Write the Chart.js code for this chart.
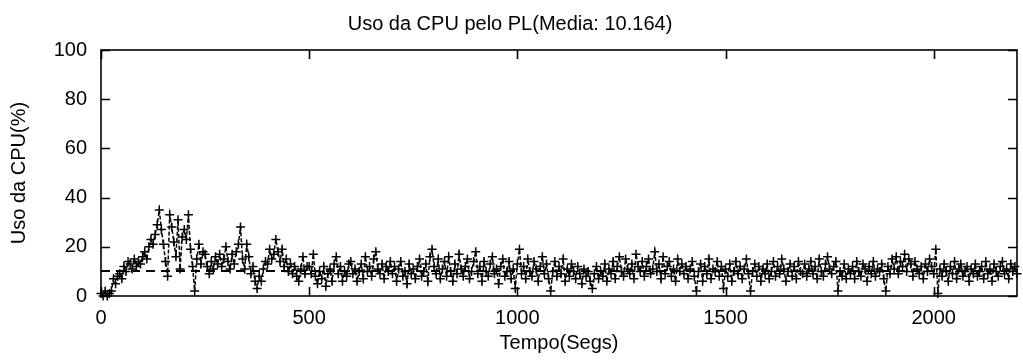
<!DOCTYPE html>
<html><head><meta charset="utf-8">
<script src="https://cdn.jsdelivr.net/npm/chart.js@4"></script>
<style>html,body{margin:0;padding:0;background:#fff}#wrap{width:1023px;height:361px}</style>
</head><body><div id="wrap"><canvas id="c" width="1023" height="361"></canvas></div>
<script>
const chartTitle = 'Uso da CPU pelo PL(Media: 10.164)';
const xTitle = 'Tempo(Segs)';
const yTitle = 'Uso da CPU(%)';
const sampleStep = 5;            // seconds between samples
const meanUsage = 10.164;
const xRange = [0, 2200];
const yRange = [0, 100];
const xTickValues = [0, 500, 1000, 1500, 2000];
const yTickValues = [0, 20, 40, 60, 80, 100];
// CPU usage (%) sampled every 5 s, one row = 100 s
const cpuUsage = [
  1,0,2,0,1,2,7,5,8,9,7,12,10,14,13,11,15,12,14,13,          // 0
  16,18,15,20,23,21,25,29,35,27,21,14,8,33,28,22,16,31,11,24, // 100
  27,23,33,19,12,2,15,21,13,18,17,12,9,14,11,16,13,17,12,15,  // 200
  20,14,11,17,13,18,21,28,15,11,21,16,9,12,6,3,8,6,11,14,     // 300
  13,19,15,17,23,18,14,19,12,15,10,13,9,12,8,6,11,16,9,12,    // 400
  12,9,17,8,5,10,7,12,4,9,11,6,13,16,9,12,6,10,8,13,          // 500
  14,9,11,6,10,13,7,16,10,12,8,15,18,11,9,13,7,12,10,14,      // 600
  9,12,6,11,14,8,10,5,13,9,11,7,12,15,8,10,13,6,16,19,        // 700
  12,9,15,7,11,14,8,16,10,6,13,9,17,11,8,12,15,7,10,14,       // 800
  18,9,12,6,14,10,8,13,16,9,11,5,12,15,8,10,14,7,11,3,        // 900
  13,19,9,12,7,15,10,8,14,11,6,12,16,9,13,7,2,10,14,8,        // 1000
  12,9,15,6,11,8,13,10,7,12,9,5,11,8,10,6,3,9,12,7,           // 1100
  10,8,13,6,11,9,14,7,12,16,10,8,15,11,9,13,7,17,12,10,       // 1200
  14,8,12,15,9,11,18,10,13,7,16,9,12,14,8,11,6,15,10,13,      // 1300
  9,12,7,11,14,8,2,10,13,6,12,9,15,7,11,10,14,8,12,3,         // 1400
  11,8,13,6,10,14,9,12,7,11,15,9,2,10,13,8,12,6,11,9,         // 1500
  13,7,10,14,8,12,9,15,11,6,10,13,8,12,7,14,10,9,13,8,        // 1600
  11,14,9,12,7,15,10,8,13,16,11,9,12,14,2,10,8,13,7,11,       // 1700
  9,12,7,14,10,8,13,11,6,12,9,14,8,11,10,13,7,2,12,9,         // 1800
  15,11,16,9,14,12,17,10,15,13,8,14,11,9,12,7,13,10,15,12,    // 1900
  9,19,1,11,8,13,10,6,12,9,14,7,11,13,8,10,12,6,11,9,         // 2000
  13,8,10,12,7,14,9,11,6,13,10,8,12,14,9,11,7,13,10,12,       // 2100
  9                                                           // 2200
];

const cpuPoints = cpuUsage.map((v, i) => ({x: i * sampleStep, y: v}));
const meanPoints = [{x: xRange[0], y: meanUsage}, {x: xRange[1], y: meanUsage}];

const frameTicks = {
  id: 'frameTicks',
  afterDatasetsDraw(chart) {
    const {ctx, chartArea: a, scales} = chart;
    const L = 9;
    ctx.save();
    ctx.strokeStyle = '#000';
    ctx.lineWidth = 1.6;
    ctx.strokeRect(a.left, a.top, a.right - a.left, a.bottom - a.top);
    ctx.beginPath();
    xTickValues.forEach(v => {
      const px = Math.round(scales.x.getPixelForValue(v)) + 0.5;
      ctx.moveTo(px, a.bottom); ctx.lineTo(px, a.bottom - L);
      ctx.moveTo(px, a.top); ctx.lineTo(px, a.top + L);
    });
    yTickValues.forEach(v => {
      const py = Math.round(scales.y.getPixelForValue(v)) + 0.5;
      ctx.moveTo(a.left, py); ctx.lineTo(a.left + L, py);
      ctx.moveTo(a.right, py); ctx.lineTo(a.right - L, py);
    });
    ctx.stroke();
    ctx.restore();
  }
};

const font20 = {family: '"Liberation Sans", Arial, sans-serif', size: 20};

new Chart(document.getElementById('c'), {
  type: 'scatter',
  data: {
    datasets: [
      {
        data: cpuPoints,
        showLine: true,
        borderColor: '#000',
        borderWidth: 1.5,
        borderDash: [4, 2],
        pointStyle: 'cross',
        pointRadius: 4.5,
        pointBorderWidth: 1.5,
        pointBorderColor: '#000',
        clip: false
      },
      {
        data: meanPoints,
        showLine: true,
        borderColor: '#000',
        borderWidth: 2,
        borderDash: [9, 6],
        pointRadius: 0
      }
    ]
  },
  options: {
    responsive: false,
    animation: false,
    devicePixelRatio: 1,
    layout: {padding: {left: 0, right: 3, top: 0, bottom: 0}},
    plugins: {
      legend: {display: false},
      tooltip: {enabled: false},
      title: {
        display: true, text: chartTitle, color: '#000',
        font: {...font20, weight: 'normal', lineHeight: 1.2},
        padding: {top: 12, bottom: 14}
      }
    },
    scales: {
      x: {
        type: 'linear', min: xRange[0], max: xRange[1],
        afterBuildTicks: s => { s.ticks = xTickValues.map(v => ({value: v})); },
        afterFit: s => { s.height = 65; },
        grid: {display: false, drawTicks: false},
        border: {display: false},
        ticks: {color: '#000', font: font20, padding: 10, maxRotation: 0, autoSkip: false,
                callback: v => String(v)},
        title: {display: true, text: xTitle, color: '#000', font: {...font20, lineHeight: 1.2}, padding: {top: 5, bottom: 6}}
      },
      y: {
        min: yRange[0], max: yRange[1],
        afterBuildTicks: s => { s.ticks = yTickValues.map(v => ({value: v})); },
        afterFit: s => { s.width = 101; },
        grid: {display: false, drawTicks: false},
        border: {display: false},
        ticks: {color: '#000', font: font20, padding: 14, callback: v => String(v)},
        title: {display: true, text: yTitle, color: '#000', font: {...font20, lineHeight: 1.2}, padding: {top: 7, bottom: 0}}
      }
    }
  },
  plugins: [frameTicks]
});
</script>
</body></html>
